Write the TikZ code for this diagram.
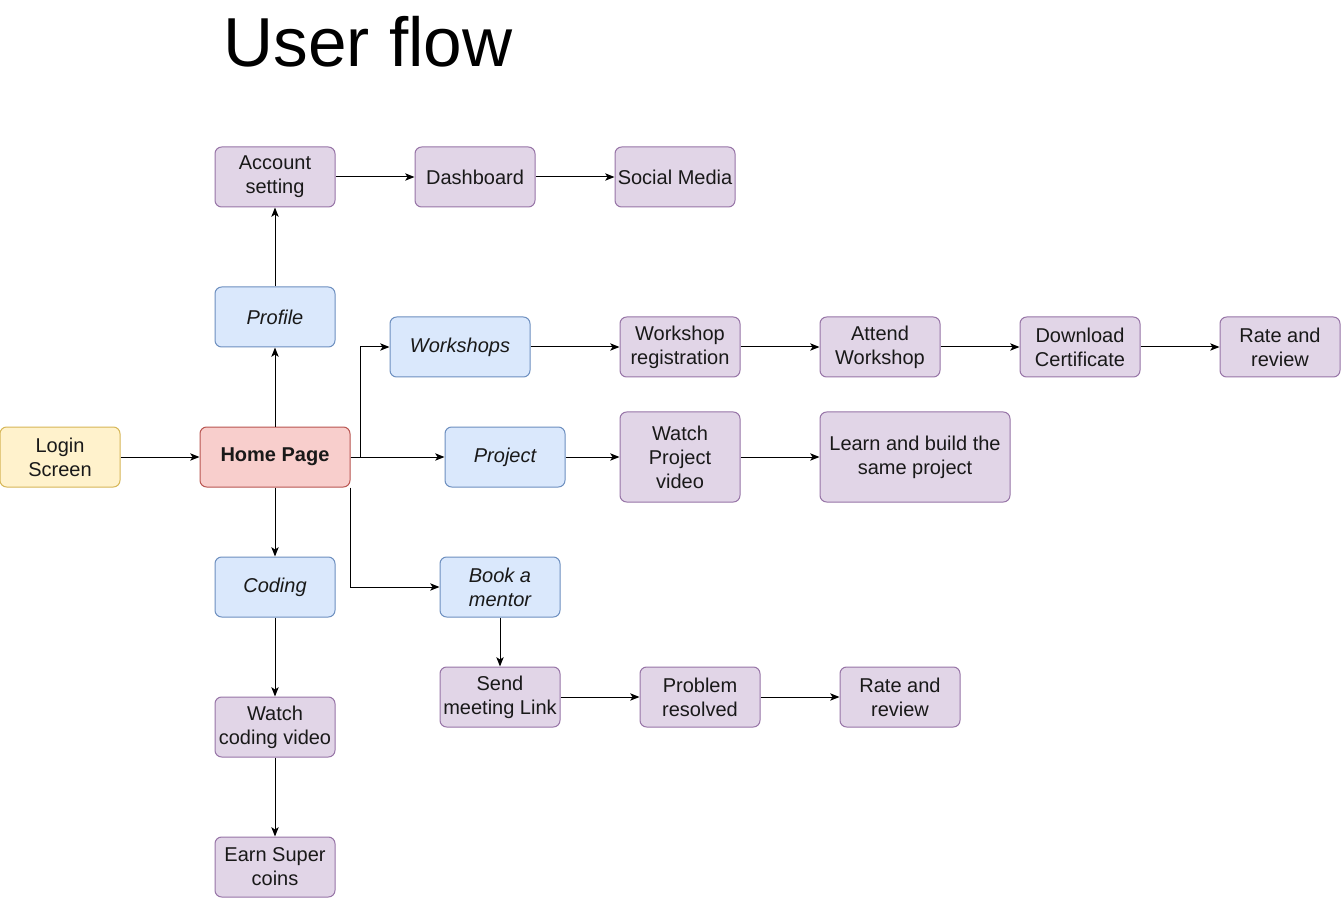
\documentclass[tikz,border=0pt]{standalone}
\usepackage{fontspec}
\setmainfont{Liberation Sans}
\usetikzlibrary{arrows.meta}
\definecolor{startfill}{HTML}{FFF2CC}
\definecolor{startline}{HTML}{D6B656}
\definecolor{homefill}{HTML}{F8CECC}
\definecolor{homeline}{HTML}{B85450}
\definecolor{sectfill}{HTML}{DAE8FC}
\definecolor{sectline}{HTML}{6C8EBF}
\definecolor{stepfill}{HTML}{E1D5E7}
\definecolor{stepline}{HTML}{9673A6}
\begin{document}
\begin{tikzpicture}[
    x=0.75pt, y=-0.75pt,
    box_style/.style={rectangle, rounded corners=5pt, line width=0.75pt, align=center,
        inner sep=0pt, minimum width=90pt, minimum height=45pt, text=black!90,
        font=\fontsize{15}{18}\selectfont},
    start_style/.style={box_style, draw=startline, fill=startfill},
    home_style/.style={box_style, draw=homeline, fill=homefill, minimum width=112.5pt, font=\fontsize{15}{18}\selectfont\bfseries},
    sect_style/.style={box_style, draw=sectline, fill=sectfill, font=\fontsize{15}{18}\selectfont\itshape},
    task_style/.style={box_style, draw=stepline, fill=stepfill},
    edge_style/.style={line width=0.75pt, -{Stealth[length=7pt, width=5.5pt, inset=1.8pt]}}
]
\useasboundingbox (0,0) rectangle (1342,898);
\node[font=\fontsize{52}{60}\selectfont] (title) at (368,42) {User flow};
% start and home
\node[start_style] (login) at (60,457) {Login\\Screen};
\node[home_style] (home) at (275,457) {Home Page};
% profile branch
\node[sect_style] (profile) at (275,317) {Profile};
\node[task_style] (account) at (275,177) {Account\\setting};
\node[task_style] (dash) at (475,177) {Dashboard};
\node[task_style] (social) at (675,177) {Social Media};
% workshop branch
\node[sect_style, minimum width=105pt] (work) at (460,347) {Workshops};
\node[task_style] (wreg) at (680,347) {Workshop\\registration};
\node[task_style] (attend) at (880,347) {Attend\\Workshop};
\node[task_style] (cert) at (1080,347) {Download\\Certificate};
\node[task_style] (wrate) at (1280,347) {Rate and\\review};
% project branch
\node[sect_style] (proj) at (505,457) {Project};
\node[task_style, minimum height=67.5pt] (pvideo) at (680,457) {Watch\\Project\\video};
\node[task_style, minimum width=142.5pt, minimum height=67.5pt] (learn) at (915,457) {Learn and build the\\same project};
% mentor branch
\node[sect_style] (mentor) at (500,587) {Book a\\mentor};
\node[task_style] (link) at (500,697) {Send\\meeting Link};
\node[task_style] (solved) at (700,697) {Problem\\resolved};
\node[task_style] (mrate) at (900,697) {Rate and\\review};
% coding branch
\node[sect_style] (coding) at (275,587) {Coding};
\node[task_style] (cvideo) at (275,727) {Watch\\coding video};
\node[task_style] (coins) at (275,867) {Earn Super\\coins};
% connectors
\draw[edge_style] (login) -- (home);
\draw[edge_style] (home) -- (profile);
\draw[edge_style] (profile) -- (account);
\draw[edge_style] (account) -- (dash);
\draw[edge_style] (dash) -- (social);
\draw[edge_style] (home.east) -- ++(10,0) |- (work.west);
\draw[edge_style] (work) -- (wreg);
\draw[edge_style] (wreg) -- (attend);
\draw[edge_style] (attend) -- (cert);
\draw[edge_style] (cert) -- (wrate);
\draw[edge_style] (home) -- (proj);
\draw[edge_style] (proj) -- (pvideo);
\draw[edge_style] (pvideo) -- (learn);
\draw[edge_style] (home.south east) |- (mentor.west);
\draw[edge_style] (mentor) -- (link);
\draw[edge_style] (link) -- (solved);
\draw[edge_style] (solved) -- (mrate);
\draw[edge_style] (home) -- (coding);
\draw[edge_style] (coding) -- (cvideo);
\draw[edge_style] (cvideo) -- (coins);
\end{tikzpicture}
\end{document}
